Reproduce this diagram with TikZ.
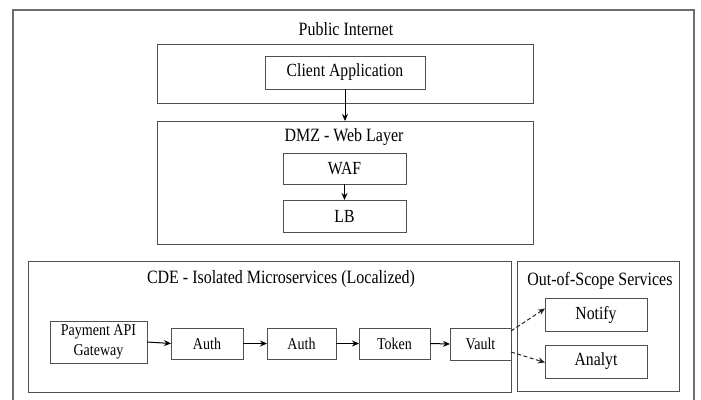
\documentclass[tikz,border=0pt]{standalone}
\usepackage{fontspec}
\setmainfont[FakeStretch=0.85]{Liberation Serif}
\usetikzlibrary{arrows.meta}
\definecolor{linegray}{HTML}{505050}
\definecolor{framegray}{HTML}{6E6E6E}
\tikzset{
  box/.style={draw=linegray, line width=1pt, rectangle, inner sep=0pt, outer sep=0pt, align=center, text=black},
  zone/.style={draw=linegray, line width=1pt, rectangle, inner sep=0pt, outer sep=0pt},
  ttl/.style={font=\fontsize{18.8}{22}\selectfont, text=black, inner sep=0pt},
  lbl/.style={font=\fontsize{18.5}{22}\selectfont},
  sml/.style={font=\fontsize{16.5}{20}\selectfont},
  flow/.style={draw=black, line width=1pt, -{Stealth[length=7pt,width=6pt]}},
  soft/.style={draw=black!85, line width=1pt, dashed, dash pattern=on 4pt off 2.5pt, -{Stealth[length=7pt,width=6pt]}}
}
\newcommand{\bx}[7]{% name, x1, y1, x2, y2, style, text
  \node[#6, minimum width={(#4-#2)*1pt}, minimum height={(#5-#3)*1pt}] (#1) at ({(#2+#4)/2},{(#3+#5)/2}) {#7};}
\begin{document}
\begin{tikzpicture}[x=1pt,y=-1pt]
\useasboundingbox[fill=white] (0,0) rectangle (701,399);
% outer frame
\coordinate (fbl) at (13,402);
\coordinate (ftl) at (13,10);
\coordinate (ftr) at (694,10);
\coordinate (fbr) at (694,402);
\draw[framegray, line width=1.6pt] (fbl) -- (ftl) -- (ftr) -- (fbr);
% Public Internet
\node[ttl] (tpub) at (346,29) {Public Internet};
\bx{pub}{157}{44}{533}{103}{zone}{}
\bx{client}{265}{56}{425}{89}{box,lbl}{Client Application}
% DMZ
\bx{dmz}{157}{121}{533}{244}{zone}{}
\node[ttl] (tdmz) at (344,137) {DMZ - Web Layer};
\bx{waf}{283}{153}{406}{184}{box,lbl}{WAF}
\bx{lb}{283}{200}{406}{232}{box,lbl}{LB}
% CDE
\bx{cde}{28}{261}{511}{392}{zone}{}
\node[ttl] (tcde) at (281,279) {CDE - Isolated Microservices (Localized)};
\bx{pay}{50}{321}{147}{363}{box,sml}{Payment API\\Gateway}
\bx{auth1}{171}{328}{243}{359}{box,sml}{Auth}
\bx{auth2}{267}{328}{336}{359}{box,sml}{Auth}
\bx{token}{359}{328}{430}{359}{box,sml}{Token}
\bx{vault}{450}{328}{511}{360}{box,sml}{Vault}
% Out of scope
\bx{oos}{517}{261}{679}{391}{zone}{}
\node[ttl] (toos) at (600,281) {Out-of-Scope Services};
\bx{notify}{545}{298}{647}{331}{box,lbl}{Notify}
\bx{analyt}{545}{345}{647}{378}{box,lbl}{Analyt}
% connectors
\draw[flow] (client.south) -- (dmz.north);
\draw[flow] (waf.south) -- (lb.north);
\draw[flow] (pay.east) -- (auth1.west);
\draw[flow] (auth1.east) -- (auth2.west);
\draw[flow] (auth2.east) -- (token.west);
\draw[flow] (token.east) -- (vault.west);
\draw[soft] ([yshift=-3pt]vault.north east) -- ([yshift=6pt]notify.west);
\draw[soft] ([yshift=-8pt]vault.east) -- ([yshift=-1pt]analyt.west);
\end{tikzpicture}
\end{document}
